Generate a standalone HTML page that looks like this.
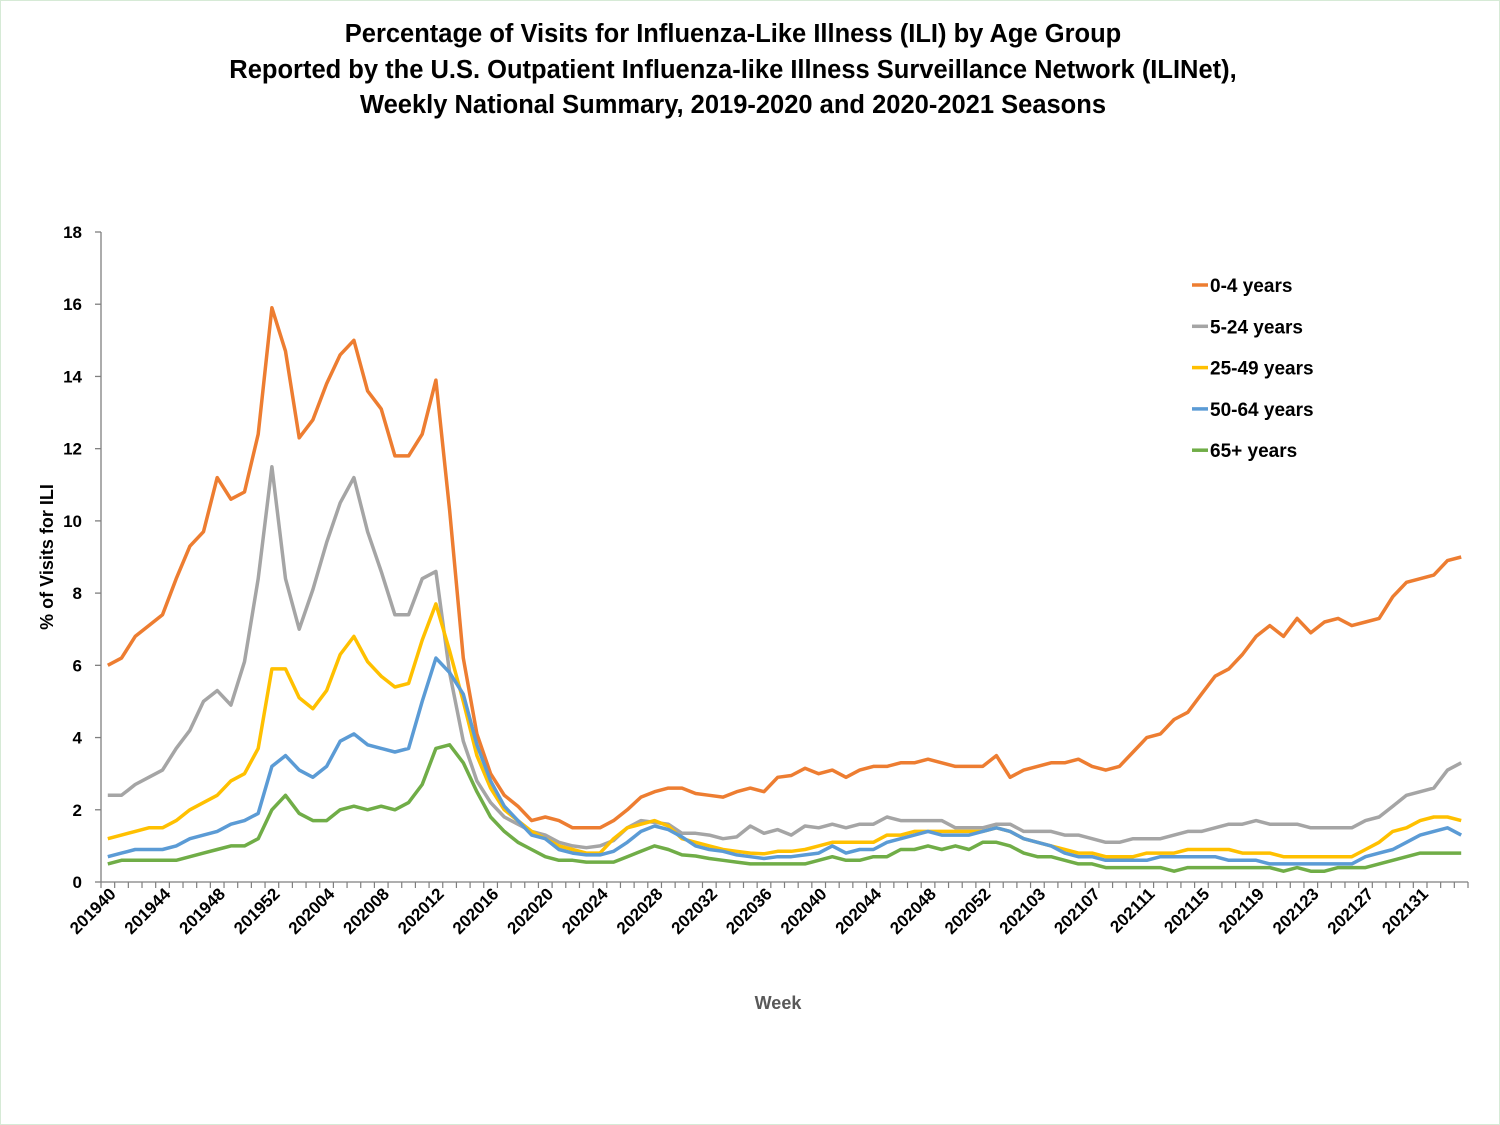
<!DOCTYPE html>
<html><head><meta charset="utf-8"><style>
body{margin:0;background:#fff}
svg{display:block}
text{font-family:"Liberation Sans",sans-serif;font-weight:bold}
</style></head><body>
<svg id="chart" width="1500" height="1125" viewBox="0 0 1500 1125">
<rect x="0.5" y="0.5" width="1499" height="1124" fill="#fff" stroke="#d6ead6"/>
<g font-size="25.5" text-anchor="middle" fill="#000">
<text x="733" y="42">Percentage of Visits for Influenza-Like Illness (ILI) by Age Group</text>
<text x="733" y="78">Reported by the U.S. Outpatient Influenza-like Illness Surveillance Network (ILINet),</text>
<text x="733" y="113">Weekly National Summary, 2019-2020 and 2020-2021 Seasons</text>
</g>
<text transform="translate(53,557) rotate(-90)" text-anchor="middle" font-size="18">% of Visits for ILI</text>
<text x="778" y="1009" text-anchor="middle" font-size="18" fill="#595959">Week</text>
<g id="axes"></g>
<g id="series"></g>
<g id="legend"></g>
</svg>
<script>
const yTicks=[0,2,4,6,8,10,12,14,16,18];
const seriesNames=["0-4 years","5-24 years","25-49 years","50-64 years","65+ years"];
const seriesColors=["#ed7d31","#a5a5a5","#ffc000","#5b9bd5","#70ad47"];
const age0to4=[6.0,6.2,6.8,7.1,7.4,8.4,9.3,9.7,11.2,10.6,10.8,12.4,15.9,14.7,12.3,12.8,13.8,14.6,15.0,13.6,13.1,11.8,11.8,12.4,13.9,10.3,6.2,4.1,3.0,2.4,2.1,1.7,1.8,1.7,1.5,1.5,1.5,1.7,2.0,2.35,2.5,2.6,2.6,2.45,2.4,2.35,2.5,2.6,2.5,2.9,2.95,3.15,3.0,3.1,2.9,3.1,3.2,3.2,3.3,3.3,3.4,3.3,3.2,3.2,3.2,3.5,2.9,3.1,3.2,3.3,3.3,3.4,3.2,3.1,3.2,3.6,4.0,4.1,4.5,4.7,5.2,5.7,5.9,6.3,6.8,7.1,6.8,7.3,6.9,7.2,7.3,7.1,7.2,7.3,7.9,8.3,8.4,8.5,8.9,9.0];
const age5to24=[2.4,2.4,2.7,2.9,3.1,3.7,4.2,5.0,5.3,4.9,6.1,8.4,11.5,8.4,7.0,8.1,9.4,10.5,11.2,9.7,8.6,7.4,7.4,8.4,8.6,5.8,3.9,2.8,2.2,1.8,1.6,1.4,1.3,1.1,1.0,0.95,1.0,1.15,1.5,1.7,1.65,1.6,1.35,1.35,1.3,1.2,1.25,1.55,1.35,1.45,1.3,1.55,1.5,1.6,1.5,1.6,1.6,1.8,1.7,1.7,1.7,1.7,1.5,1.5,1.5,1.6,1.6,1.4,1.4,1.4,1.3,1.3,1.2,1.1,1.1,1.2,1.2,1.2,1.3,1.4,1.4,1.5,1.6,1.6,1.7,1.6,1.6,1.6,1.5,1.5,1.5,1.5,1.7,1.8,2.1,2.4,2.5,2.6,3.1,3.3];
const age25to49=[1.2,1.3,1.4,1.5,1.5,1.7,2.0,2.2,2.4,2.8,3.0,3.7,5.9,5.9,5.1,4.8,5.3,6.3,6.8,6.1,5.7,5.4,5.5,6.7,7.7,6.4,5.0,3.5,2.6,2.0,1.7,1.4,1.2,1.0,0.9,0.8,0.8,1.2,1.5,1.6,1.7,1.55,1.2,1.1,1.0,0.9,0.85,0.8,0.78,0.85,0.85,0.9,1.0,1.1,1.1,1.1,1.1,1.3,1.3,1.4,1.4,1.4,1.4,1.4,1.4,1.5,1.4,1.2,1.1,1.0,0.9,0.8,0.8,0.7,0.7,0.7,0.8,0.8,0.8,0.9,0.9,0.9,0.9,0.8,0.8,0.8,0.7,0.7,0.7,0.7,0.7,0.7,0.9,1.1,1.4,1.5,1.7,1.8,1.8,1.7];
const age50to64=[0.7,0.8,0.9,0.9,0.9,1.0,1.2,1.3,1.4,1.6,1.7,1.9,3.2,3.5,3.1,2.9,3.2,3.9,4.1,3.8,3.7,3.6,3.7,5.0,6.2,5.8,5.2,3.8,2.8,2.1,1.7,1.3,1.2,0.9,0.8,0.75,0.75,0.85,1.1,1.4,1.55,1.45,1.25,1.0,0.9,0.85,0.75,0.7,0.65,0.7,0.7,0.75,0.8,1.0,0.8,0.9,0.9,1.1,1.2,1.3,1.4,1.3,1.3,1.3,1.4,1.5,1.4,1.2,1.1,1.0,0.8,0.7,0.7,0.6,0.6,0.6,0.6,0.7,0.7,0.7,0.7,0.7,0.6,0.6,0.6,0.5,0.5,0.5,0.5,0.5,0.5,0.5,0.7,0.8,0.9,1.1,1.3,1.4,1.5,1.3];
const age65plus=[0.5,0.6,0.6,0.6,0.6,0.6,0.7,0.8,0.9,1.0,1.0,1.2,2.0,2.4,1.9,1.7,1.7,2.0,2.1,2.0,2.1,2.0,2.2,2.7,3.7,3.8,3.3,2.5,1.8,1.4,1.1,0.9,0.7,0.6,0.6,0.55,0.55,0.55,0.7,0.85,1.0,0.9,0.75,0.72,0.65,0.6,0.55,0.5,0.5,0.5,0.5,0.5,0.6,0.7,0.6,0.6,0.7,0.7,0.9,0.9,1.0,0.9,1.0,0.9,1.1,1.1,1.0,0.8,0.7,0.7,0.6,0.5,0.5,0.4,0.4,0.4,0.4,0.4,0.3,0.4,0.4,0.4,0.4,0.4,0.4,0.4,0.3,0.4,0.3,0.3,0.4,0.4,0.4,0.5,0.6,0.7,0.8,0.8,0.8,0.8];
const seriesValues=[age0to4,age5to24,age25to49,age50to64,age65plus];
// categories: MMWR weeks 201940..202134 (2020 has 53 weeks)
const categories=[];
for(let w=40;w<=52;w++)categories.push("2019"+w);
for(let w=1;w<=53;w++)categories.push("2020"+String(w).padStart(2,"0"));
for(let w=1;w<=34;w++)categories.push("2021"+String(w).padStart(2,"0"));

const NS="http://www.w3.org/2000/svg";
const X0=101,X1=1468,Y0=882,Y1=232,YMAX=18;
const band=(X1-X0)/categories.length;
const xPos=i=>X0+band*(i+0.5);
const yPos=v=>Y0-(v/YMAX)*(Y0-Y1);
function mk(tag,attrs,parent){const e=document.createElementNS(NS,tag);for(const k in attrs)e.setAttribute(k,attrs[k]);parent.appendChild(e);return e;}
const axes=document.getElementById("axes");
const yAxis=mk("line",{x1:X0,y1:Y1,x2:X0,y2:Y0,stroke:"#7f7f7f","stroke-width":1.3},axes);


const xAxis=mk("line",{x1:X0,y1:Y0,x2:X1,y2:Y0,stroke:"#7f7f7f","stroke-width":1.3},axes);


yTicks.forEach(t=>{
  const y=yPos(t);
  const tk=mk("line",{x1:X0-6,y1:y,x2:X0,y2:y,stroke:"#7f7f7f","stroke-width":1.3},axes);
  
  
  const lb=mk("text",{x:82,y:y+6,"text-anchor":"end","font-size":17},axes);
  lb.textContent=t;
  
  
});
for(let i=0;i<=categories.length;i++){
  const x=X0+band*i;
  const tk=mk("line",{x1:x,y1:Y0,x2:x,y2:Y0+6,stroke:"#7f7f7f","stroke-width":1.2},axes);
  
  
}
categories.forEach((c,i)=>{
  if(i%4!==0)return;
  const x=xPos(i)+9,y=Y0+13;
  const lb=mk("text",{x:x,y:y,"text-anchor":"end","font-size":17,transform:`rotate(-45 ${x} ${y})`},axes);
  lb.textContent=c;
  
  
});
const sg=document.getElementById("series");
seriesValues.forEach((vals,s)=>{
  const pts=vals.map((v,i)=>xPos(i).toFixed(1)+","+yPos(v).toFixed(1)).join(" ");
  const pl=mk("polyline",{points:pts,fill:"none",stroke:seriesColors[s],"stroke-width":3.5,"stroke-linejoin":"round"},sg);
  
  
});
const lg=document.getElementById("legend");
seriesNames.forEach((n,s)=>{
  const y=285+s*41.3;
  const g=mk("g",{},lg);
  
  
  mk("line",{x1:1192,y1:y,x2:1208,y2:y,stroke:seriesColors[s],"stroke-width":3.5},g);
  const t=mk("text",{x:1210,y:y+7,"font-size":19},g);
  t.textContent=n;
});
</script>
</body></html>
